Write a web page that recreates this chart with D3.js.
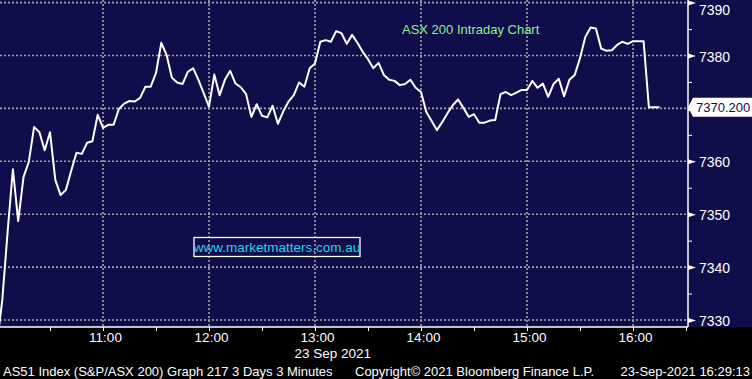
<!DOCTYPE html>
<html>
<head>
<meta charset="utf-8">
<script src="https://cdn.jsdelivr.net/npm/d3@7"></script>
<style>
  html, body { margin: 0; padding: 0; background: #000; }
  svg { display: block; }
  text { font-family: "Liberation Sans", Arial, sans-serif; }
</style>
</head>
<body>
<div id="chart"></div>
<script>
// ASX 200 intraday, 3 minute bars from 10:00 on 23 Sep 2021
const startTime = '2021-09-23T10:00:00';
const stepMinutes = 3;
const prices = [
  7325.6, 7333.8, 7346.6, 7358.5, 7348.7, 7357.0, 7359.9, 7366.5, 7365.5, 7362.1,
  7365.5, 7356.5, 7353.6, 7354.6, 7358.2, 7361.6, 7361.4, 7363.5, 7363.8, 7368.8,
  7366.3, 7366.9, 7366.9, 7369.9, 7370.9, 7371.4, 7371.3, 7372.0, 7374.1, 7374.1,
  7376.7, 7382.4, 7380.1, 7375.8, 7374.9, 7374.6, 7376.9, 7377.6, 7375.4, 7372.9,
  7370.3, 7376.4, 7372.5, 7375.4, 7377.1, 7374.7, 7374.0, 7372.7, 7368.4, 7370.8,
  7368.6, 7368.3, 7370.5, 7367.1, 7369.4, 7371.3, 7372.5, 7374.9, 7374.1, 7377.6,
  7378.5, 7382.6, 7382.9, 7382.6, 7384.6, 7384.2, 7382.2, 7383.9, 7382.4, 7380.7,
  7379.3, 7377.6, 7378.6, 7376.3, 7375.4, 7375.2, 7374.4, 7374.6, 7375.4, 7373.9,
  7373.1, 7369.3, 7367.6, 7365.9, 7367.4, 7369.1, 7370.6, 7371.7, 7370.1, 7368.4,
  7368.9, 7367.3, 7367.3, 7367.7, 7367.8, 7372.7, 7373.1, 7372.5, 7373.0, 7373.5,
  7373.5, 7375.2, 7373.9, 7374.7, 7372.2, 7374.6, 7375.6, 7372.3, 7375.4, 7376.3,
  7379.5, 7383.5, 7385.3, 7385.1, 7381.3, 7380.9, 7381.0, 7382.0, 7382.6, 7382.2,
  7382.7, 7382.7, 7382.7, 7370.2, 7370.2, 7370.2
];
const yTicks = [7330, 7340, 7350, 7360, 7370, 7380, 7390];
const yMinorTicks = [7335, 7345, 7355, 7365, 7375, 7385];
const lastPrice = '7370.200';
const title = 'ASX 200 Intraday Chart';
const watermark = 'www.marketmatters.com.au';
const dateLabel = '23 Sep 2021';
const footerLeft = 'AS51 Index (S&P/ASX 200) Graph 217 3 Days 3 Minutes';
const footerMid = 'Copyright\u00a9 2021 Bloomberg Finance L.P.';
const footerRight = '23-Sep-2021 16:29:13';

const width = 752, height = 379;
const plotRight = 688, plotBottom = 327;
const bg = '#0f0d4a';
const font = '"Liberation Sans", Arial, sans-serif';

const parse = d3.isoParse;
const t0 = parse(startTime);
const data = prices.map((p, i) => ({date: d3.timeMinute.offset(t0, i * stepMinutes), value: p}));

const x = d3.scaleTime()
  .domain([t0, parse('2021-09-23T16:30:00')])
  .range([-3, 686]);
const y = d3.scaleLinear()
  .domain([7330, 7390])
  .range([320, 2.6]);

const svg = d3.select('#chart').append('svg')
  .attr('width', width).attr('height', height);

svg.append('rect').attr('width', width).attr('height', height).attr('fill', '#000');
svg.append('rect').attr('width', width).attr('height', plotBottom).attr('fill', bg);

svg.append('clipPath').attr('id', 'plot-clip')
  .append('rect').attr('width', plotRight).attr('height', plotBottom);

// grid
const hours = x.ticks(d3.timeHour.every(1)).filter(d => d > t0);
const grid = svg.append('g').attr('stroke', '#a4a4a4')
  .attr('stroke-width', 1.6).attr('stroke-dasharray', '2,2');
grid.selectAll('.hg').data(yTicks).join('line')
  .attr('x1', 0).attr('x2', plotRight)
  .attr('y1', d => y(d)).attr('y2', d => y(d));
grid.selectAll('.vg').data(hours).join('line')
  .attr('x1', d => x(d)).attr('x2', d => x(d))
  .attr('y1', 0).attr('y2', plotBottom);

// price line
const line = d3.line().x(d => x(d.date)).y(d => y(d.value));
svg.append('path').datum(data)
  .attr('clip-path', 'url(#plot-clip)')
  .attr('fill', 'none').attr('stroke', '#fff')
  .attr('stroke-width', 2).attr('stroke-linejoin', 'round')
  .attr('d', line);

// x axis
const xTicks = x.ticks(d3.timeMinute.every(30)).filter(d => d > t0);
const xAxis = svg.append('g').attr('transform', `translate(0,${plotBottom})`)
  .call(d3.axisBottom(x)
    .tickValues(xTicks)
    .tickSize(4).tickPadding(1)
    .tickFormat(d => d.getMinutes() === 0 ? d3.timeFormat('%H:%M')(d) : ''));
xAxis.select('.domain').attr('stroke', '#fff').attr('stroke-width', 1.5)
  .attr('d', `M0,0H${plotRight}`);
xAxis.selectAll('.tick line').attr('stroke', '#fff');
xAxis.selectAll('.tick text').attr('fill', '#fff')
  .attr('font-size', 13.5).attr('dx', 2)
  .style('font-family', font);

// y axis (right); the 7370 label sits under the last price tag
const yAxis = svg.append('g').attr('transform', `translate(${plotRight},0)`)
  .call(d3.axisRight(y).tickValues(yTicks).tickSize(0).tickPadding(11)
    .tickFormat(d => d === 7370 ? '' : d3.format('d')(d)));
yAxis.select('.domain').attr('stroke', '#fff').attr('stroke-width', 1.5)
  .attr('d', `M0,0V${plotBottom}`);
yAxis.selectAll('.tick text').attr('fill', '#fff').attr('font-size', 14)
  .attr('y', d => Math.max(y(d), 9) - y(d))
  .attr('dy', '0.4em')
  .style('font-family', font);
yAxis.selectAll('.tick').append('path')
  .attr('d', 'M0,-2.5L8,0L0,2.5Z').attr('fill', '#fff');

const yMinor = svg.append('g').attr('transform', `translate(${plotRight},0)`)
  .call(d3.axisRight(y).tickValues(yMinorTicks).tickSize(4).tickFormat(''));
yMinor.select('.domain').remove();
yMinor.selectAll('.tick line').attr('stroke', '#fff');

// last price tag
const ly = y(+lastPrice);
svg.append('path')
  .attr('d', `M${plotRight},${ly}L${plotRight + 5},${ly - 9.5}H${width}V${ly + 9.5}H${plotRight + 5}Z`)
  .attr('fill', '#fff');
svg.append('text').attr('x', plotRight + 8).attr('y', ly + 5)
  .attr('font-size', 13).attr('fill', bg).text(lastPrice);

// title
svg.append('text').attr('x', 402).attr('y', 34)
  .attr('font-size', 13).attr('fill', '#8ff08f').text(title);

// watermark
svg.append('rect').attr('x', 194).attr('y', 237.5).attr('width', 166).attr('height', 19)
  .attr('fill', 'none').attr('stroke', '#fff').attr('stroke-width', 1.3);
svg.append('text').attr('x', 277).attr('y', 252).attr('text-anchor', 'middle')
  .attr('font-size', 13.5).attr('fill', '#22d4e6').text(watermark);

// footer
svg.append('text').attr('x', 371).attr('y', 358).attr('text-anchor', 'end')
  .attr('font-size', 13.5).attr('fill', '#fff').text(dateLabel);
svg.append('text').attr('x', 3).attr('y', 376)
  .attr('font-size', 13).attr('fill', '#fff').text(footerLeft);
svg.append('text').attr('x', 355).attr('y', 376)
  .attr('font-size', 13).attr('fill', '#fff').text(footerMid);
svg.append('text').attr('x', 750).attr('y', 376).attr('text-anchor', 'end')
  .attr('font-size', 13).attr('fill', '#fff').text(footerRight);
</script>
</body>
</html>
